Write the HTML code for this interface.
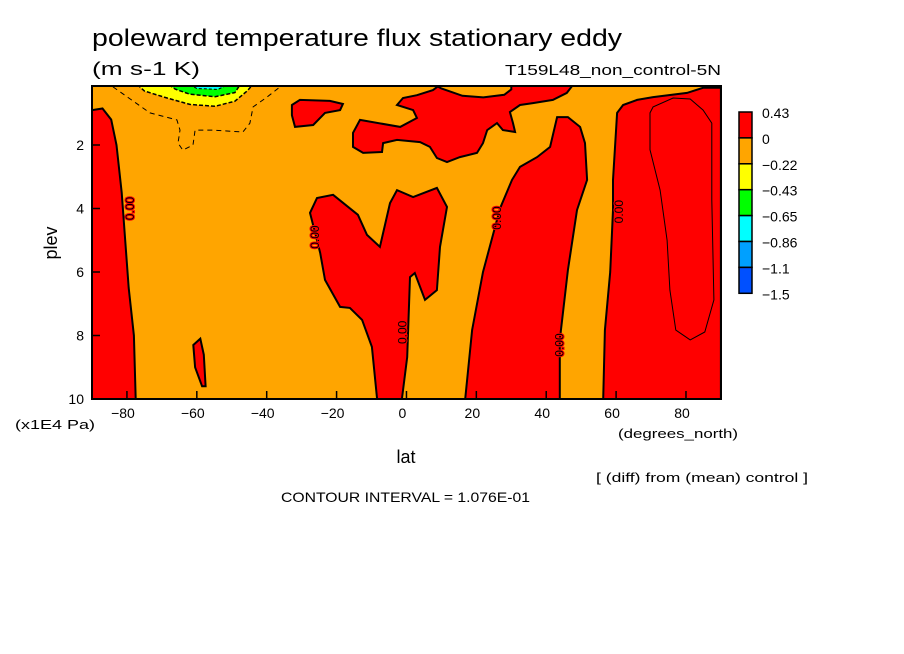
<!DOCTYPE html>
<html><head><meta charset="utf-8"><style>
body{margin:0;background:#fff;width:904px;height:654px;overflow:hidden}
svg{display:block}
text{font-family:"Liberation Sans",sans-serif;fill:#000}
</style></head><body>
<svg id="chart" width="904" height="654" viewBox="0 0 904 654">
<text x="92" y="46" font-size="24" textLength="530" lengthAdjust="spacingAndGlyphs">poleward temperature flux stationary eddy</text>
<text x="92" y="75" font-size="18" textLength="108" lengthAdjust="spacingAndGlyphs">(m s-1 K)</text>
<text x="505" y="75" font-size="15" textLength="216" lengthAdjust="spacingAndGlyphs">T159L48_non_control-5N</text>
<defs><clipPath id="plotclip"><rect x="92" y="86" width="629" height="313"/></clipPath></defs>
<g id="plot" clip-path="url(#plotclip)"></g>
<rect x="92" y="86" width="629" height="313" fill="none" stroke="#000" stroke-width="2"/>
<g id="axes"></g>
<text x="57" y="243" font-size="18" transform="rotate(-90 57 243)" text-anchor="middle">plev</text>
<text x="15" y="429" font-size="13" textLength="80" lengthAdjust="spacingAndGlyphs">(x1E4 Pa)</text>
<text x="406" y="463" font-size="18" text-anchor="middle">lat</text>
<text x="618" y="438" font-size="13" textLength="120" lengthAdjust="spacingAndGlyphs">(degrees_north)</text>
<text x="596" y="482" font-size="13" textLength="212" lengthAdjust="spacingAndGlyphs">[ (diff) from (mean) control ]</text>
<text x="281" y="502" font-size="14" textLength="249" lengthAdjust="spacingAndGlyphs">CONTOUR INTERVAL = 1.076E-01</text>
<g id="legend"></g>
</svg>
<script>
const latTicks=[-80,-60,-40,-20,0,20,40,60,80];
const plevTicks=[2,4,6,8,10];
const legendLabels=["0.43","0","-0.22","-0.43","-0.65","-0.86","-1.1","-1.5"];
const legendColors=["#ff0000","#ffa500","#ffff00","#00ff00","#00ffff","#00a0ff","#0050ff"];
const redLeft=[[-90,0.9],[-87,0.85],[-84.5,1.2],[-83,2.0],[-81.5,3.5],[-80.5,5],[-79.5,6.5],[-78,8],[-77.5,10],[-90,10]];
const redBlobSouth=[[-61,8.3],[-59,8.1],[-58,8.6],[-57.5,9.6],[-58.5,9.6],[-60.5,9.0]];
const redCentral=[[-8.4,10],[-9.9,8.36],[-12.7,7.51],[-16.2,7.13],[-19,7.1],[-23.3,6.25],[-24.7,5.4],[-27.6,4.14],[-25.6,3.67],[-21,3.57],[-13.9,4.2],[-11.3,4.83],[-7.6,5.21],[-4.7,3.83],[-2.7,3.42],[1.9,3.64],[8.7,3.35],[11.6,3.95],[9.6,5.21],[8.7,6.57],[5.3,6.88],[2.4,6.03],[1.0,6.16],[0.2,8.68],[-1.3,10]];
const redUpper=[[-2.7,0.74],[-1.0,0.52],[3.0,0.43],[7.6,0.27],[9.6,0.1],[47.7,0.1],[45.9,0.36],[41.9,0.58],[36.2,0.68],[32.5,0.74],[29.6,0.96],[30.5,1.31],[31.1,1.59],[27.6,1.53],[25.9,1.31],[23.1,1.53],[21.9,1.94],[20.2,2.25],[15.3,2.38],[11.6,2.54],[8.7,2.41],[6.7,2.06],[3.9,1.91],[-2.7,1.84],[-6.7,1.94],[-7,2.22],[-12.4,2.25],[-15.3,2.06],[-15.3,1.62],[-13.3,1.21],[-1.8,1.43],[3.0,1.15],[1.9,0.9]];
const orangePocket=[[8,0.1],[10,0.22],[16,0.45],[22,0.5],[28,0.42],[30,0.25],[30,0.1]];
const redBlobUpperLeft=[[-32.8,0.74],[-30.5,0.58],[-21.9,0.61],[-18.2,0.71],[-19,0.9],[-23.3,0.99],[-26.7,1.37],[-31.9,1.43],[-32.8,1.06]];
const redMid=[[16.8,10],[18.8,7.83],[21.9,6.0],[26.8,3.99],[30.2,3.1],[32.5,2.69],[37.4,2.38],[41.1,2.06],[43.1,1.12],[46.2,1.12],[49.7,1.43],[51.1,1.94],[51.7,3.1],[48.8,4.05],[46.2,5.94],[43.9,8.14],[43.9,10]];
const redRight=[[56.3,10],[56.8,7.83],[58.3,6.0],[59.1,4.05],[59.1,3.1],[60.3,0.99],[62,0.74],[66,0.58],[70.6,0.49],[80.3,0.36],[84.9,0.2],[90,0.2],[90,10]];
const innerContour=[[69.7,0.99],[70.6,0.8],[76.3,0.52],[81.2,0.55],[84.9,0.9],[87.4,1.31],[87.4,3.73],[88,6.88],[85.4,7.89],[81.2,8.14],[77.1,7.83],[75.4,6.57],[74.6,5.0],[72.6,3.42],[69.7,2.15]];
const yellowRegion=[[-77,0.1],[-75,0.3],[-69.1,0.5],[-62,0.72],[-54.8,0.78],[-49.1,0.62],[-45.6,0.3],[-44,0.1]];
const greenRegion=[[-68,0.1],[-66.2,0.24],[-62,0.4],[-54.8,0.48],[-49.1,0.35],[-47.6,0.1]];
const cyanRegion=[[-62,0.1],[-60,0.22],[-54,0.25],[-51,0.1]];
const dashedContour=[[-84,0.17],[-73.4,0.99],[-65.7,1.21],[-64.8,1.53],[-65.4,1.94],[-64,2.16],[-61.1,2.0],[-60.5,1.53],[-55.4,1.53],[-46.8,1.59],[-44.8,1.31],[-43.9,0.8],[-39.9,0.49],[-36.2,0.17]];
const zeroLabels=[[-78,4.0],[-25,4.9],[0,7.9],[27,4.3],[45,8.3],[62,4.1]];

function X(lat){return 92+(lat+90)*3.494;}
function Y(p){return 81.5+p*31.75;}
const NS="http://www.w3.org/2000/svg";
const plot=document.getElementById('plot');
function pts(a){return a.map(d=>X(d[0]).toFixed(1)+','+Y(d[1]).toFixed(1)).join(' ');}
function poly(a,fill,stroke,sw,name,dash,closed){
  const el=document.createElementNS(NS,closed===false?'polyline':'polygon');
  el.setAttribute('points',pts(a));
  el.setAttribute('fill',fill);el.setAttribute('stroke',stroke);el.setAttribute('stroke-width',sw);
  if(dash)el.setAttribute('stroke-dasharray',dash);
  
  
  plot.appendChild(el);
}
const bg=document.createElementNS(NS,'rect');
bg.setAttribute('x',92);bg.setAttribute('y',86);bg.setAttribute('width',629);bg.setAttribute('height',313);bg.setAttribute('fill','#ffa500');


plot.appendChild(bg);
poly(redLeft,'#ff0000','#000',2,'red-region-south-pole');
poly(redBlobSouth,'#ff0000','#000',2,'red-blob-60s');
poly(redCentral,'#ff0000','#000',2,'red-region-equator');
poly(redUpper,'#ff0000','#000',2,'red-region-upper');
poly(orangePocket,'#ffa500','#000',2,'orange-pocket-upper');
poly(redBlobUpperLeft,'#ff0000','#000',2,'red-blob-upper-left');
poly(redMid,'#ff0000','#000',2,'red-region-30n');
poly(redRight,'#ff0000','#000',2,'red-region-north-pole');
poly(innerContour,'none','#000',1,'inner-contour-line');
poly(yellowRegion,'#ffff00','#000',1.5,'yellow-region','4,2');
poly(greenRegion,'#00ff00','#000',1.5,'green-region','4,2');
poly(cyanRegion,'#00ffff','#000',1,'cyan-region','3,2');
poly(dashedContour,'none','#000',1,'dashed-contour-line','5,4',false);
zeroLabels.forEach(d=>{
  const t=document.createElementNS(NS,'text');
  const x=X(d[0]),y=Y(d[1]);
  t.setAttribute('x',x);t.setAttribute('y',y);t.setAttribute('font-size','12');t.setAttribute('text-anchor','middle');
  t.setAttribute('transform','rotate(-90 '+x+' '+y+')');
  t.setAttribute('stroke','#ff0000');t.setAttribute('stroke-width','2');t.setAttribute('paint-order','stroke');
  t.textContent='0.00';
  
  
  plot.appendChild(t);
});
const axes=document.getElementById('axes');
latTicks.forEach(v=>{
  const l=document.createElementNS(NS,'line');
  l.setAttribute('x1',X(v));l.setAttribute('x2',X(v));l.setAttribute('y1',399);l.setAttribute('y2',391);l.setAttribute('stroke','#000');l.setAttribute('stroke-width',1.5);
  
  
  axes.appendChild(l);
  const t=document.createElementNS(NS,'text');
  t.setAttribute('x',X(v)-4);t.setAttribute('y',418);t.setAttribute('font-size','14');t.setAttribute('text-anchor','middle');
  t.textContent=v<0?'\u2212'+(-v):String(v);
  
  
  axes.appendChild(t);
});
plevTicks.forEach(v=>{
  const l=document.createElementNS(NS,'line');
  l.setAttribute('x1',92);l.setAttribute('x2',100);l.setAttribute('y1',Y(v));l.setAttribute('y2',Y(v));l.setAttribute('stroke','#000');l.setAttribute('stroke-width',1.5);
  
  
  axes.appendChild(l);
  const t=document.createElementNS(NS,'text');
  t.setAttribute('x',84);t.setAttribute('y',Y(v)+5);t.setAttribute('font-size','14');t.setAttribute('text-anchor','end');
  t.textContent=String(v);
  
  
  axes.appendChild(t);
});
const legend=document.getElementById('legend');
const lx=739,ly=112,lh=25.9;
legendColors.forEach((c,i)=>{
  const r=document.createElementNS(NS,'rect');
  r.setAttribute('x',lx);r.setAttribute('y',ly+i*lh);r.setAttribute('width',13);r.setAttribute('height',lh);
  r.setAttribute('fill',c);r.setAttribute('stroke','#000');r.setAttribute('stroke-width',1.5);
  
  
  legend.appendChild(r);
});
legendLabels.forEach((s,i)=>{
  const t=document.createElementNS(NS,'text');
  t.setAttribute('x',762);t.setAttribute('y',ly+i*lh+6);t.setAttribute('font-size','14');
  t.textContent=s.replace('-','\u2212');
  
  
  legend.appendChild(t);
});
</script>
</body></html>
